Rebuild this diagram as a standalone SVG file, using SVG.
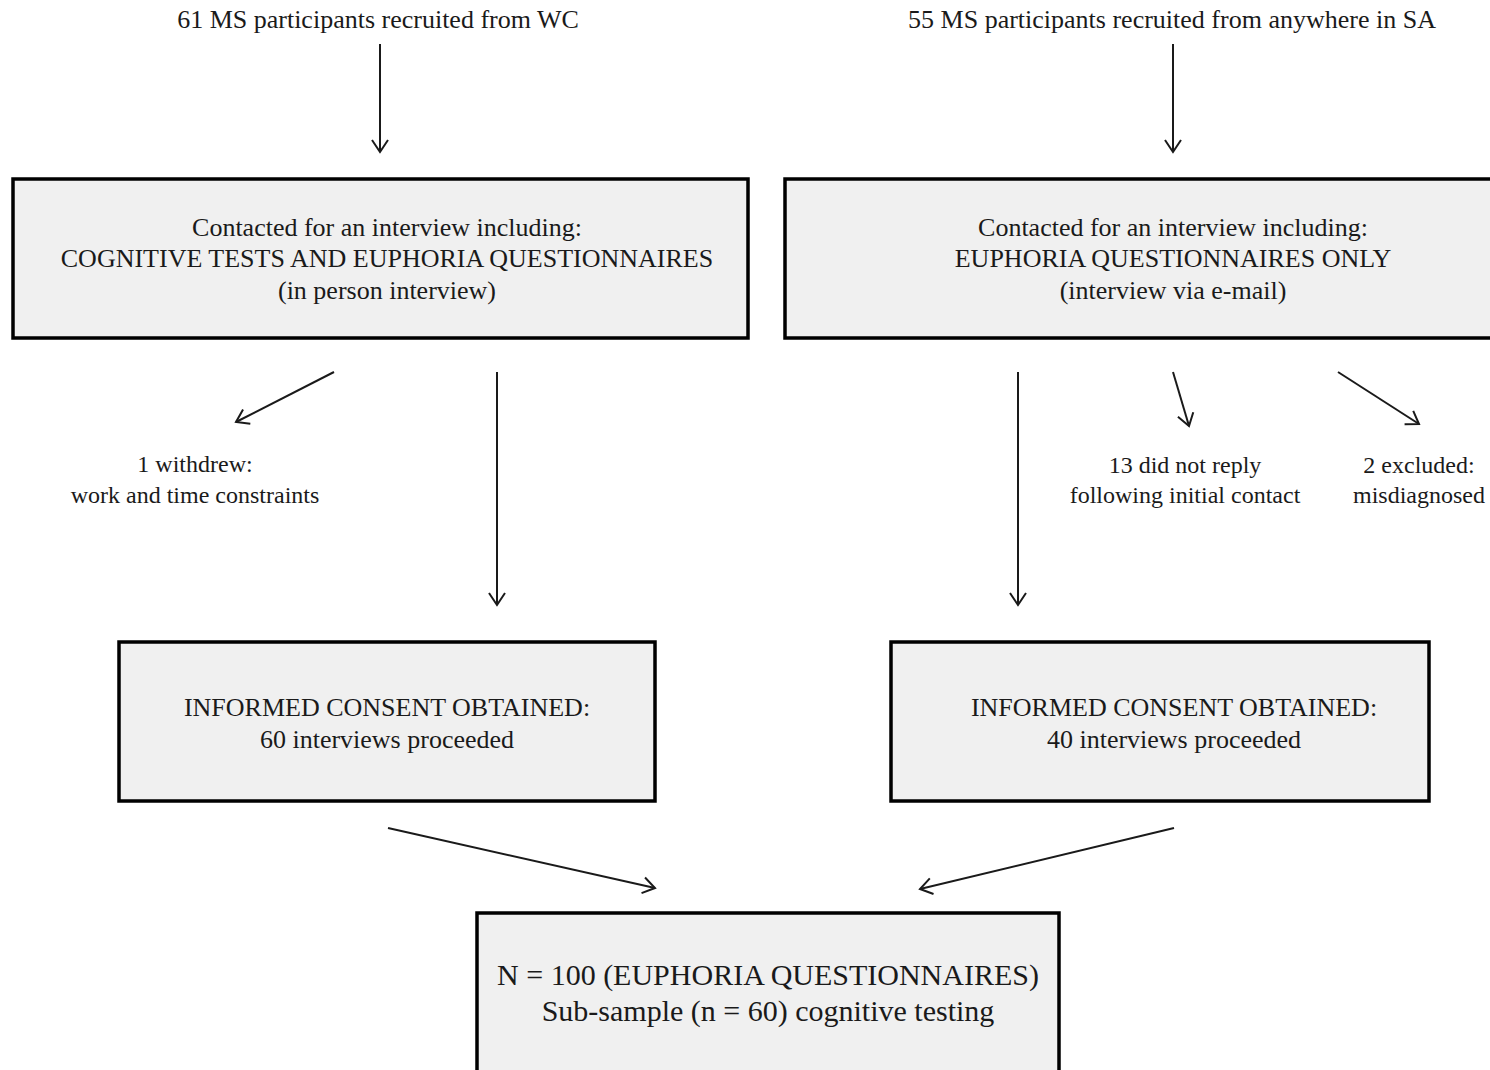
<svg xmlns="http://www.w3.org/2000/svg" width="1490" height="1070" viewBox="0 0 1490 1070">
<style>
text{font-family:"Liberation Serif","Times New Roman",serif;fill:#1a1a1a;text-anchor:middle;font-size:24px}
.m{font-size:26px}
.big{font-size:30px}
.box{fill:#f0f0f0;stroke:#000;stroke-width:3.5}
.c{stroke:#1a1a1a;stroke-width:2;fill:none}
</style>
<defs>
<marker id="ah" markerUnits="userSpaceOnUse" markerWidth="30" markerHeight="30" refX="15" refY="15" orient="auto">
<path d="M3,7 L15,15 L3,23" fill="none" stroke="#1a1a1a" stroke-width="2"/>
</marker>
</defs>
<rect width="1490" height="1070" fill="#fff"/>
<g id="src-left"><text class="m" x="378" y="28">61 MS participants recruited from WC</text></g>
<g id="src-right"><text class="m" x="1172" y="28">55 MS participants recruited from anywhere in SA</text></g>
<g id="box-top-left">
<rect class="box" x="13" y="179" width="735" height="159"/>
<text class="m" x="387" y="236">Contacted for an interview including:</text>
<text class="m" x="387" y="267">COGNITIVE TESTS AND EUPHORIA QUESTIONNAIRES</text>
<text class="m" x="387" y="299">(in person interview)</text>
</g>
<g id="box-top-right">
<rect class="box" x="785" y="179" width="720" height="159"/>
<text class="m" x="1173" y="236">Contacted for an interview including:</text>
<text class="m" x="1173" y="267">EUPHORIA QUESTIONNAIRES ONLY</text>
<text class="m" x="1173" y="299">(interview via e-mail)</text>
</g>
<g id="withdrew">
<text x="195" y="472">1 withdrew:</text>
<text x="195" y="503">work and time constraints</text>
</g>
<g id="noreply">
<text x="1185" y="473">13 did not reply</text>
<text x="1185" y="503">following initial contact</text>
</g>
<g id="excluded">
<text x="1419" y="473">2 excluded:</text>
<text x="1419" y="503">misdiagnosed</text>
</g>
<g id="box-mid-left">
<rect class="box" x="119" y="642" width="536" height="159"/>
<text class="m" x="387" y="716">INFORMED CONSENT OBTAINED:</text>
<text class="m" x="387" y="748">60 interviews proceeded</text>
</g>
<g id="box-mid-right">
<rect class="box" x="891" y="642" width="538" height="159"/>
<text class="m" x="1174" y="716">INFORMED CONSENT OBTAINED:</text>
<text class="m" x="1174" y="748">40 interviews proceeded</text>
</g>
<g id="box-bottom">
<rect class="box" x="477" y="913" width="582" height="170"/>
<text class="big" x="768" y="985">N = 100 (EUPHORIA QUESTIONNAIRES)</text>
<text class="big" x="768" y="1021">Sub-sample  (n = 60) cognitive  testing</text>
</g>
<g id="connectors">
<line class="c" x1="380" y1="44" x2="380" y2="152" marker-end="url(#ah)"/>
<line class="c" x1="1173" y1="44" x2="1173" y2="152" marker-end="url(#ah)"/>
<line class="c" x1="334" y1="372" x2="236" y2="422" marker-end="url(#ah)"/>
<line class="c" x1="497" y1="372" x2="497" y2="605" marker-end="url(#ah)"/>
<line class="c" x1="1018" y1="372" x2="1018" y2="605" marker-end="url(#ah)"/>
<line class="c" x1="1173" y1="372" x2="1189" y2="426" marker-end="url(#ah)"/>
<line class="c" x1="1338" y1="372" x2="1419" y2="424" marker-end="url(#ah)"/>
<line class="c" x1="388" y1="828" x2="655" y2="888" marker-end="url(#ah)"/>
<line class="c" x1="1174" y1="828" x2="920" y2="889" marker-end="url(#ah)"/>
</g>
</svg>
